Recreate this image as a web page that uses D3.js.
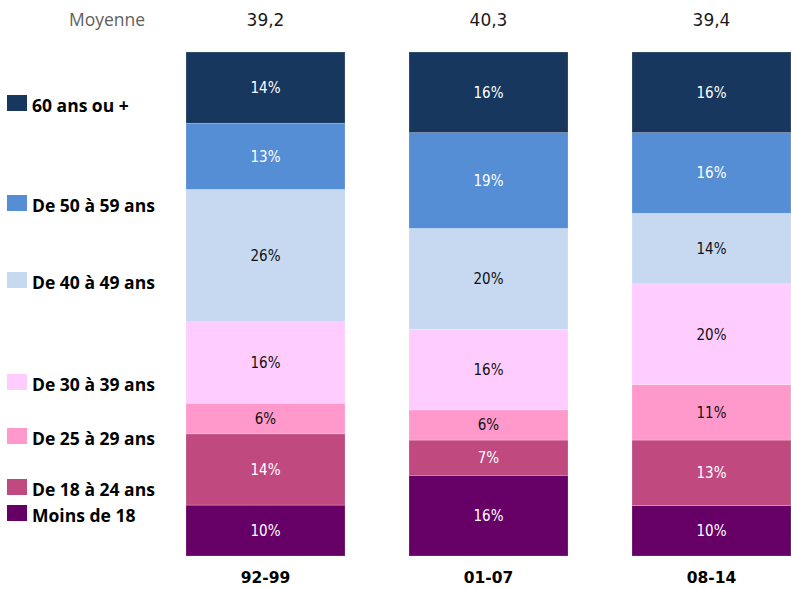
<!DOCTYPE html>
<html>
<head>
<meta charset="utf-8">
<script src="https://cdn.jsdelivr.net/npm/d3@7"></script>
<style>
  html, body { margin: 0; padding: 0; background: #fff; }
  svg { display: block; }
</style>
</head>
<body>
<svg id="chart" width="791" height="589"></svg>
<script>
// ---- Data ----
const categories = ["92-99", "01-07", "08-14"];
const means = ["39,2", "40,3", "39,4"];
const meanLabel = "Moyenne";

// series, bottom to top
const seriesNames = ["Moins de 18", "De 18 à 24 ans", "De 25 à 29 ans", "De 30 à 39 ans",
                     "De 40 à 49 ans", "De 50 à 59 ans", "60 ans ou +"];
const moins18 = [10, 16, 10];
const de18a24 = [14, 7, 13];
const de25a29 = [6, 6, 11];
const de30a39 = [16, 16, 20];
const de40a49 = [26, 20, 14];
const de50a59 = [13, 19, 16];
const plus60  = [14, 16, 16];

const seriesValues = [moins18, de18a24, de25a29, de30a39, de40a49, de50a59, plus60];
const seriesColors = ["#660066", "#c0497f", "#ff99cc", "#ffccff", "#c6d9f1", "#558ed5", "#17375e"];
const labelColors  = ["#ffffff", "#ffffff", "#111111", "#111111", "#111111", "#ffffff", "#ffffff"];

// ---- Build table ----
const table = categories.map((c, i) => {
  const row = { cat: c };
  seriesNames.forEach((s, j) => row[s] = seriesValues[j][i]);
  return row;
});

const stack = d3.stack().keys(seriesNames).offset(d3.stackOffsetExpand);
const stacked = stack(table);

const svg = d3.select("#chart");

const x = d3.scaleBand().domain(categories).range([186, 791]).paddingInner(0.287).paddingOuter(0);
const y = d3.scaleLinear().domain([0, 1]).range([556, 52]);

// bars
const layers = svg.append("g").selectAll("g")
  .data(stacked).join("g")
  .attr("fill", (d, i) => seriesColors[i]);

layers.selectAll("rect")
  .data(d => d.map(p => ({ p, key: d.key })))
  .join("rect")
  .attr("x", d => x(d.p.data.cat))
  .attr("width", x.bandwidth())
  .attr("y", d => y(d.p[1]))
  .attr("height", d => y(d.p[0]) - y(d.p[1]))
  .attr("stroke", "rgba(255,255,255,0.25)")
  .attr("stroke-width", 0.8);

// value labels
stacked.forEach((layer, i) => {
  svg.append("g").selectAll("text")
    .data(layer).join("text")
    .attr("x", d => x(d.data.cat) + x.bandwidth() / 2)
    .attr("y", d => (y(d[0]) + y(d[1])) / 2)
    .attr("dy", "0.36em")
    .attr("text-anchor", "middle")
    .attr("font-family", "'Liberation Sans Narrow', 'DejaVu Sans Condensed', sans-serif")
    .attr("font-size", "15px")
    .attr("fill", labelColors[i])
    .text(d => d.data[layer.key] + "%");
});

// category axis (no line)
const xAxis = d3.axisBottom(x).tickSize(0).tickPadding(0);
const gx = svg.append("g").attr("transform", "translate(0,572)").call(xAxis);
gx.select(".domain").remove();
gx.selectAll("text")
  .attr("font-family", "'DejaVu Sans', sans-serif")
  .attr("font-weight", "bold")
  .attr("font-size", "15.5px")
  .attr("fill", "#000")
  .attr("dy", "0.71em");

// means on top
svg.append("text")
  .attr("x", 107).attr("y", 26)
  .attr("text-anchor", "middle")
  .attr("font-family", "'Open Sans', sans-serif")
  .attr("font-size", "17.5px")
  .attr("fill", "#606060")
  .text(meanLabel);

svg.append("g").selectAll("text")
  .data(categories).join("text")
  .attr("x", d => x(d) + x.bandwidth() / 2)
  .attr("y", 26)
  .attr("text-anchor", "middle")
  .attr("font-family", "'DejaVu Sans', sans-serif")
  .attr("font-size", "17px")
  .attr("fill", "#1a1a1a")
  .text((d, i) => means[i]);

// legend (top to bottom)
const legendY = { "60 ans ou +": 95, "De 50 à 59 ans": 195, "De 40 à 49 ans": 272,
                  "De 30 à 39 ans": 374, "De 25 à 29 ans": 428, "De 18 à 24 ans": 479,
                  "Moins de 18": 505 };
const legend = svg.append("g").selectAll("g")
  .data(seriesNames).join("g")
  .attr("transform", d => `translate(7,${legendY[d]})`);
legend.append("rect")
  .attr("width", 20).attr("height", 16)
  .attr("fill", (d, i) => seriesColors[i]);
legend.append("text")
  .attr("x", 25).attr("y", 17)
  .attr("font-family", "'Open Sans', sans-serif")
  .attr("font-weight", "bold")
  .attr("font-size", "17.5px")
  .attr("fill", "#000")
  .text(d => d);
</script>
</body>
</html>
